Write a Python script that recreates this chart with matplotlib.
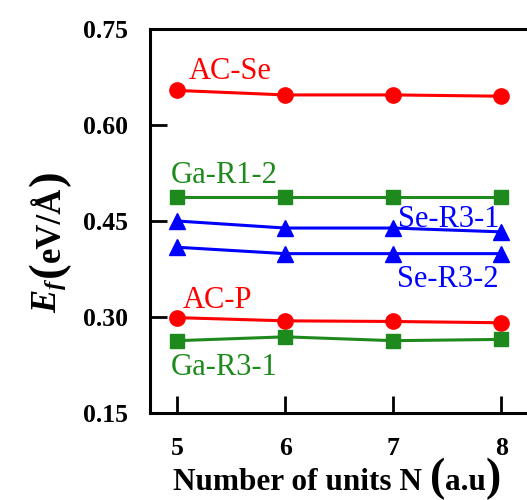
import numpy as np
import matplotlib
matplotlib.use("Agg")
import matplotlib.pyplot as plt
from matplotlib.transforms import IdentityTransform

# Data
units = [5, 6, 7, 8]
ac_se = [0.654, 0.647, 0.647, 0.645]
ga_r1_2 = [0.487, 0.487, 0.487, 0.487]
se_r3_1 = [0.450, 0.439, 0.439, 0.433]
se_r3_2 = [0.409, 0.399, 0.399, 0.399]
ac_p = [0.299, 0.294, 0.293, 0.291]
ga_r3_1 = [0.263, 0.269, 0.263, 0.265]

yticks = [0.15, 0.30, 0.45, 0.60, 0.75]

RED = "#ff0000"
GREEN = "#1e8a1e"
BLUE = "#0000ff"


def place_pieces(fig, pieces, x, y, rotation=0):
    """Draw text pieces one after another from (x, y) in figure pixels.

    Each piece is (text, kwargs, shift) where shift moves the baseline
    perpendicular to the reading direction.
    """
    renderer = fig.canvas.get_renderer()
    for text, kw, shift in pieces:
        if rotation == 90:
            px, py = x + shift, y
        else:
            px, py = x, y + shift
        t = fig.text(px, py, text, transform=IdentityTransform(),
                     ha="left", va="baseline", rotation=rotation,
                     rotation_mode="anchor", **kw)
        bb = t.get_window_extent(renderer)
        if rotation == 90:
            y += bb.height
        else:
            x += bb.width


def main():
    plt.rcParams["font.family"] = ["Liberation Serif", "DejaVu Serif"]
    plt.rcParams["mathtext.fontset"] = "custom"
    plt.rcParams["mathtext.rm"] = "Liberation Serif"
    plt.rcParams["mathtext.it"] = "Liberation Serif:italic:bold"
    plt.rcParams["mathtext.bf"] = "Liberation Serif:bold"

    fig = plt.figure(figsize=(5.27, 5.0), dpi=100)
    W, H = 527, 500
    # axes box in pixels: left 150, top 29, bottom 413, right beyond image edge
    ax = fig.add_axes([150 / W, (H - 413) / H, 385 / W, 384 / H])

    lw = 2.2
    ax.plot(units, ac_se, color=RED, marker="o", ms=11, lw=lw)
    ax.plot(units, ga_r1_2, color=GREEN, marker="s", ms=9.5, lw=lw)
    ax.plot(units, se_r3_1, color=BLUE, marker="^", ms=11.5, lw=lw)
    ax.plot(units, se_r3_2, color=BLUE, marker="^", ms=11.5, lw=lw)
    ax.plot(units, ac_p, color=RED, marker="o", ms=11, lw=lw)
    ax.plot(units, ga_r3_1, color=GREEN, marker="s", ms=9.5, lw=lw)

    fs = 22
    kw = dict(fontsize=fs, ha="center", va="baseline")
    ax.text(5.49, 0.672, "AC-Se", color=RED, **kw)
    ax.text(5.44, 0.509, "Ga-R1-2", color=GREEN, **kw)
    ax.text(7.51, 0.441, "Se-R3-1", color=BLUE, **kw)
    ax.text(7.50, 0.347, "Se-R3-2", color=BLUE, **kw)
    ax.text(5.37, 0.314, "AC-P", color=RED, **kw)
    ax.text(5.44, 0.209, "Ga-R3-1", color=GREEN, **kw)

    ax.set_xlim(4.75, 8.31)
    ax.set_ylim(0.15, 0.75)
    ax.set_xticks(units)
    ax.set_yticks(yticks)
    ax.set_yticklabels([f"{v:.2f}" for v in yticks])

    for sp in ax.spines.values():
        sp.set_linewidth(2.2)
    ax.tick_params(direction="in", length=12, width=2, labelsize=18.5)
    ax.tick_params(axis="y", pad=15.5)
    ax.tick_params(axis="x", pad=17)
    for lab in ax.get_xticklabels() + ax.get_yticklabels():
        lab.set_fontweight("bold")

    # x label with large parentheses
    place_pieces(fig, [
        ("Number of units N ", dict(fontsize=22.5, fontweight="bold"), 0),
        ("(", dict(fontsize=33, fontweight="bold"), 0),
        ("a.u", dict(fontsize=22.5, fontweight="bold"), 0),
        (")", dict(fontsize=33, fontweight="bold"), 0),
    ], 173, H - 490)

    # y label, rotated
    place_pieces(fig, [
        (r"$E_f$", dict(fontsize=25), -4),
        ("(", dict(fontsize=34, fontweight="bold"), 0),
        ("eV/Å", dict(fontsize=25, fontweight="bold"), 0),
        (")", dict(fontsize=34, fontweight="bold"), 0),
    ], 60, H - 313, rotation=90)

    fig.savefig("out.png", dpi=100)
    plt.close(fig)


if __name__ == "__main__":
    main()
